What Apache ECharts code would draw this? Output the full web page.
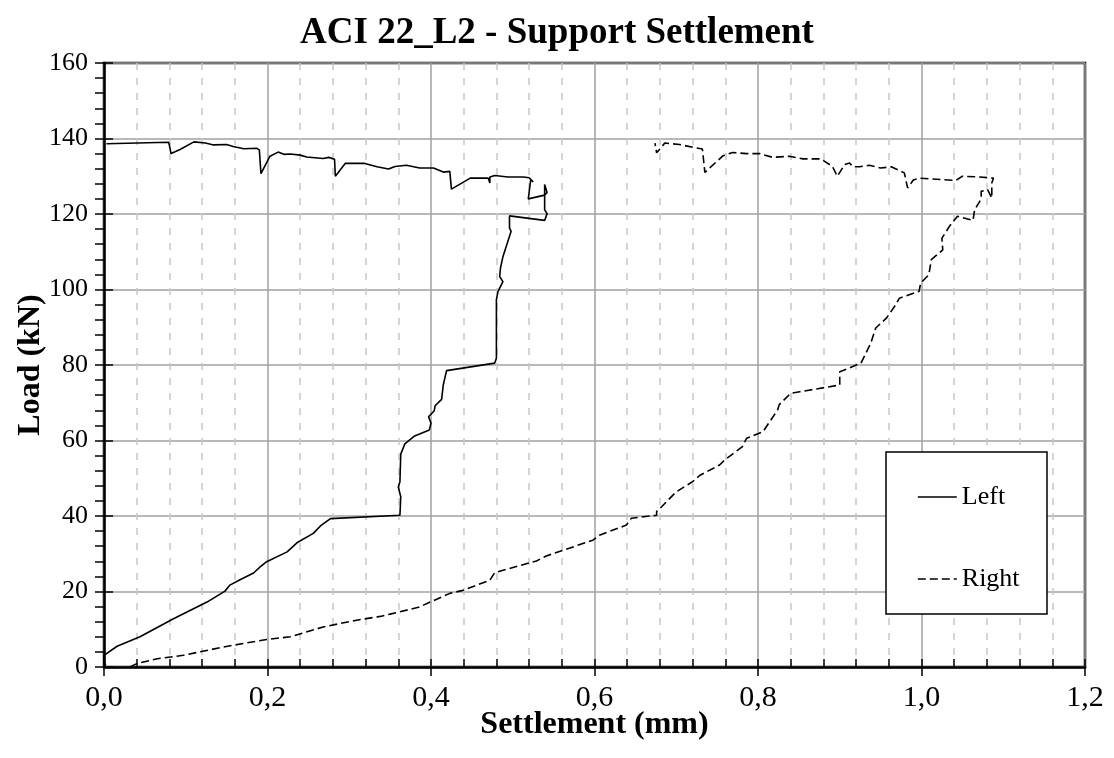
<!DOCTYPE html>
<html>
<head>
<meta charset="utf-8">
<script src="https://cdn.jsdelivr.net/npm/echarts@6/dist/echarts.min.js"></script>
<style>
  html, body { margin: 0; padding: 0; background: #ffffff; }
  #chart { width: 1114px; height: 758px; }
</style>
</head>
<body>
<div id="chart"></div>
<script>
// Left support: settlement (mm) and load (kN), in recording order
const leftSettlement = [
  0.002, 0.000, 0.000, 0.016, 0.044, 0.085, 0.126, 0.148, 0.154, 0.167,
  0.183, 0.191, 0.199, 0.224, 0.236, 0.256, 0.266, 0.277, 0.362, 0.363,
  0.360, 0.362, 0.363, 0.368, 0.380, 0.398, 0.400, 0.397, 0.404, 0.405,
  0.413, 0.415, 0.419, 0.478, 0.480, 0.480, 0.482, 0.488, 0.484, 0.485,
  0.488, 0.492, 0.498, 0.496, 0.496, 0.539, 0.542, 0.539, 0.539, 0.542,
  0.539, 0.519, 0.522, 0.525, 0.520, 0.513, 0.494, 0.478, 0.472, 0.472,
  0.470, 0.448, 0.425, 0.423, 0.415, 0.413, 0.403, 0.386, 0.370, 0.356,
  0.348, 0.334, 0.319, 0.295, 0.283, 0.282, 0.275, 0.268, 0.248, 0.240,
  0.228, 0.220, 0.213, 0.203, 0.192, 0.190, 0.187, 0.171, 0.158, 0.150,
  0.134, 0.124, 0.110, 0.093, 0.082, 0.080, 0.079, 0.003
];
const leftLoad = [
  0.5, 1.5, 3.1, 5.5, 8.0, 12.8, 17.2, 20.1, 21.7, 23.2,
  24.9, 26.5, 27.9, 30.5, 32.9, 35.4, 37.6, 39.3, 40.2, 45.1,
  47.7, 49.1, 56.4, 59.1, 61.2, 62.8, 64.6, 66.3, 67.9, 69.2,
  70.9, 74.7, 78.5, 80.5, 81.8, 97.3, 99.5, 102.1, 103.4, 105.7,
  108.7, 111.4, 115.4, 116.3, 119.5, 118.3, 120.1, 121.1, 127.8, 125.7,
  125.0, 124.0, 129.1, 128.5, 129.6, 129.8, 129.8, 130.2, 129.8, 128.2,
  129.5, 129.5, 126.6, 131.3, 131.1, 131.6, 132.2, 132.2, 132.9, 132.6,
  131.9, 132.5, 133.4, 133.4, 130.0, 134.5, 135.0, 134.7, 135.1, 135.6,
  135.9, 135.8, 136.4, 135.3, 130.7, 137.0, 137.4, 137.3, 137.9, 138.4,
  138.3, 138.8, 139.1, 137.1, 136.0, 138.2, 139.0, 138.6
];

// Right support: settlement (mm) and load (kN), in recording order
const rightSettlement = [
  0.032, 0.040, 0.065, 0.097, 0.146, 0.199, 0.228, 0.268, 0.309, 0.338,
  0.350, 0.386, 0.399, 0.423, 0.439, 0.472, 0.478, 0.529, 0.541, 0.598,
  0.606, 0.639, 0.645, 0.676, 0.676, 0.680, 0.700, 0.720, 0.729, 0.753,
  0.759, 0.781, 0.786, 0.806, 0.824, 0.826, 0.840, 0.851, 0.900, 0.900,
  0.926, 0.938, 0.944, 0.957, 0.967, 0.973, 0.997, 0.999, 1.009, 1.012,
  1.026, 1.025, 1.034, 1.044, 1.063, 1.065, 1.073, 1.073, 1.081, 1.086,
  1.086, 1.088, 1.071, 1.050, 1.042, 1.026, 0.997, 0.990, 0.983, 0.979,
  0.971, 0.963, 0.950, 0.936, 0.924, 0.916, 0.912, 0.906, 0.897, 0.891,
  0.877, 0.855, 0.838, 0.818, 0.802, 0.786, 0.769, 0.757, 0.735, 0.732,
  0.704, 0.686, 0.676, 0.674
];
const rightLoad = [
  0.0, 0.9, 2.2, 3.1, 5.3, 7.3, 8.0, 10.6, 12.4, 13.4,
  14.0, 15.9, 17.2, 19.5, 20.3, 23.0, 25.0, 28.1, 29.4, 33.6,
  34.9, 37.6, 39.4, 40.2, 41.2, 42.0, 46.4, 49.1, 50.8, 53.5,
  54.8, 58.4, 60.6, 62.3, 68.1, 69.5, 72.5, 72.9, 74.7, 78.2,
  80.5, 85.8, 89.8, 92.4, 95.5, 97.7, 99.5, 101.7, 103.9, 107.9,
  110.5, 113.6, 116.7, 119.4, 118.3, 121.1, 124.0, 126.0, 126.4, 124.2,
  128.2, 129.5, 129.8, 130.0, 128.9, 129.1, 129.5, 129.0, 126.9, 130.9,
  131.7, 132.5, 132.2, 132.9, 132.5, 132.5, 133.5, 133.1, 130.0, 132.6,
  134.6, 134.6, 135.3, 135.0, 136.0, 136.0, 136.3, 135.4, 131.0, 137.2,
  138.4, 138.8, 136.2, 138.8
];

const seriesNames = ['Left', 'Right'];
const chartTitle = 'ACI 22_L2 - Support Settlement';
const xAxisTitle = 'Settlement (mm)';
const yAxisTitle = 'Load (kN)';

const pairs = (xs, ys) => xs.map((x, i) => [x, ys[i]]);
const serif = "'Liberation Serif', 'Times New Roman', serif";

const chart = echarts.init(document.getElementById('chart'), null, { renderer: 'canvas' });

const plotLeft = 104, plotRight = 29, plotTop = 63, plotBottom = 91;

chart.setOption({
  animation: false,
  backgroundColor: '#ffffff',
  title: {
    text: chartTitle,
    left: 'center',
    top: 10,
    textStyle: { fontFamily: serif, fontSize: 37, fontWeight: 'bold', color: '#000' }
  },
  grid: {
    left: plotLeft, right: plotRight, top: plotTop, bottom: plotBottom,
    show: true, borderColor: '#000', borderWidth: 2.5, backgroundColor: '#ffffff'
  },
  xAxis: [
    {
      type: 'value', min: 0, max: 1.2, interval: 0.2, position: 'bottom',
      name: xAxisTitle, nameLocation: 'middle', nameGap: 42, nameMoveOverlap: false,
      nameTextStyle: { fontFamily: serif, fontSize: 32, fontWeight: 'bold', color: '#000' },
      axisLine: { show: true, onZero: false, lineStyle: { color: '#000', width: 2.5 } },
      axisTick: { show: true, inside: false, length: 9, lineStyle: { color: '#000', width: 1.5 } },
      axisLabel: {
        margin: 16, fontFamily: serif, fontSize: 30, color: '#000',
        formatter: v => v.toFixed(1).replace('.', ',')
      },
      splitLine: { show: true, lineStyle: { color: '#a0a0a0', width: 1.5 } }
    },
    {
      type: 'value', min: 0, max: 1.2, interval: 0.2, position: 'bottom',
      axisLine: { show: false },
      axisLabel: { show: false },
      axisTick: { show: true, inside: true, length: 8, lineStyle: { color: '#000', width: 1.5 } },
      minorTick: { show: true, splitNumber: 5, length: 8, lineStyle: { color: '#000', width: 1.5 } },
      splitLine: { show: false },
      minorSplitLine: { show: true, lineStyle: { color: '#c8c8c8', width: 1.5, type: [7, 8] } }
    }
  ],
  yAxis: [
    {
      type: 'value', min: 0, max: 160, interval: 20, position: 'left',
      name: yAxisTitle, nameLocation: 'middle', nameGap: 57, nameRotate: 90, nameMoveOverlap: false,
      nameTextStyle: { fontFamily: serif, fontSize: 32, fontWeight: 'bold', color: '#000' },
      axisLine: { show: true, onZero: false, lineStyle: { color: '#000', width: 2.5 } },
      axisTick: { show: true, inside: false, length: 9, lineStyle: { color: '#000', width: 1.5 } },
      minorTick: { show: true, splitNumber: 5, length: 9, lineStyle: { color: '#000', width: 1.5 } },
      axisLabel: { margin: 16, fontFamily: serif, fontSize: 26, color: '#000' },
      splitLine: { show: true, lineStyle: { color: '#a0a0a0', width: 1.5 } }
    },
    {
      type: 'value', min: 0, max: 160, interval: 20, position: 'left',
      axisLine: { show: false },
      axisLabel: { show: false },
      axisTick: { show: true, inside: true, length: 9, lineStyle: { color: '#000', width: 1.5 } },
      splitLine: { show: false }
    }
  ],
  legend: {
    orient: 'vertical',
    left: 912, top: 479,
    itemWidth: 39, itemHeight: 14, itemGap: 56,
    z: 60,
    data: seriesNames,
    itemStyle: { color: 'rgba(0,0,0,0)', borderColor: 'rgba(0,0,0,0)', borderWidth: 0, opacity: 0 },
    lineStyle: { width: 1.6 },
    textStyle: { fontFamily: serif, fontSize: 26, color: '#000' }
  },
  graphic: [{
    type: 'rect', z: 50,
    shape: { x: 886, y: 452, width: 161, height: 162 },
    style: { fill: '#ffffff', stroke: '#000', lineWidth: 1.5 }
  }],
  series: [
    {
      name: seriesNames[0], type: 'line', xAxisIndex: 0, yAxisIndex: 0,
      data: pairs(leftSettlement, leftLoad),
      symbol: 'none', smooth: false,
      lineStyle: { color: '#000', width: 1.6, type: 'solid' },
      itemStyle: { color: '#000' }
    },
    {
      name: seriesNames[1], type: 'line', xAxisIndex: 0, yAxisIndex: 0,
      data: pairs(rightSettlement, rightLoad),
      symbol: 'none', smooth: false,
      lineStyle: { color: '#000', width: 1.6, type: [8, 4] },
      itemStyle: { color: '#000' }
    }
  ]
});
</script>
</body>
</html>
